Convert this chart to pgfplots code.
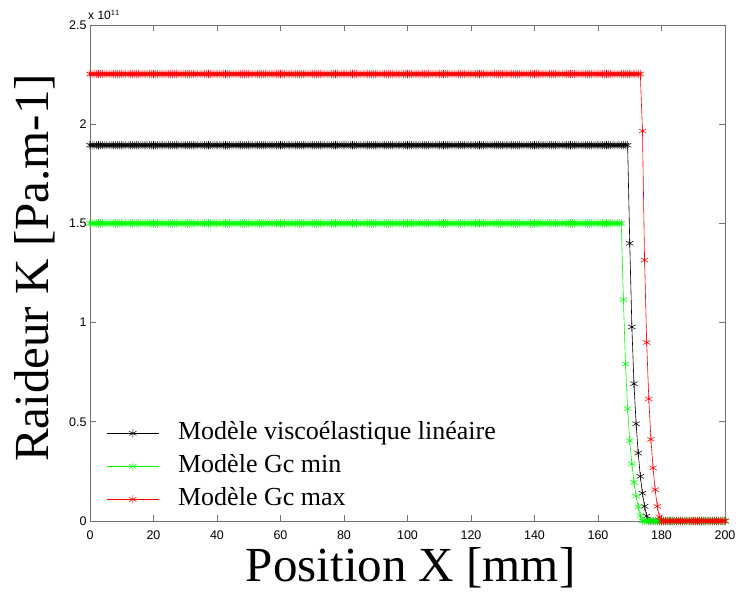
\documentclass[border=0pt]{standalone}
\usepackage{fontspec}
\setmainfont{Liberation Serif}
\newfontfamily\ticksf{Liberation Sans}
\usepackage{pgfplots}
\usepackage{pgfplotstable}
\pgfplotsset{compat=1.18}
\definecolor{mgreen}{RGB}{0,255,0}
\definecolor{mred}{RGB}{255,0,0}
\pgfplotstableread{
x k g r
0 1.894 1.5 2.253
0.67 1.894 1.5 2.253
1.33 1.894 1.5 2.253
2 1.894 1.5 2.253
2.67 1.894 1.5 2.253
3.33 1.894 1.5 2.253
4 1.894 1.5 2.253
4.67 1.894 1.5 2.253
5.33 1.894 1.5 2.253
6 1.894 1.5 2.253
6.67 1.894 1.5 2.253
7.33 1.894 1.5 2.253
8 1.894 1.5 2.253
8.67 1.894 1.5 2.253
9.33 1.894 1.5 2.253
10 1.894 1.5 2.253
10.67 1.894 1.5 2.253
11.33 1.894 1.5 2.253
12 1.894 1.5 2.253
12.67 1.894 1.5 2.253
13.33 1.894 1.5 2.253
14 1.894 1.5 2.253
14.67 1.894 1.5 2.253
15.33 1.894 1.5 2.253
16 1.894 1.5 2.253
16.67 1.894 1.5 2.253
17.33 1.894 1.5 2.253
18 1.894 1.5 2.253
18.67 1.894 1.5 2.253
19.33 1.894 1.5 2.253
20 1.894 1.5 2.253
20.67 1.894 1.5 2.253
21.33 1.894 1.5 2.253
22 1.894 1.5 2.253
22.67 1.894 1.5 2.253
23.33 1.894 1.5 2.253
24 1.894 1.5 2.253
24.67 1.894 1.5 2.253
25.33 1.894 1.5 2.253
26 1.894 1.5 2.253
26.67 1.894 1.5 2.253
27.33 1.894 1.5 2.253
28 1.894 1.5 2.253
28.67 1.894 1.5 2.253
29.33 1.894 1.5 2.253
30 1.894 1.5 2.253
30.67 1.894 1.5 2.253
31.33 1.894 1.5 2.253
32 1.894 1.5 2.253
32.67 1.894 1.5 2.253
33.33 1.894 1.5 2.253
34 1.894 1.5 2.253
34.67 1.894 1.5 2.253
35.33 1.894 1.5 2.253
36 1.894 1.5 2.253
36.67 1.894 1.5 2.253
37.33 1.894 1.5 2.253
38 1.894 1.5 2.253
38.67 1.894 1.5 2.253
39.33 1.894 1.5 2.253
40 1.894 1.5 2.253
40.67 1.894 1.5 2.253
41.33 1.894 1.5 2.253
42 1.894 1.5 2.253
42.67 1.894 1.5 2.253
43.33 1.894 1.5 2.253
44 1.894 1.5 2.253
44.67 1.894 1.5 2.253
45.33 1.894 1.5 2.253
46 1.894 1.5 2.253
46.67 1.894 1.5 2.253
47.33 1.894 1.5 2.253
48 1.894 1.5 2.253
48.67 1.894 1.5 2.253
49.33 1.894 1.5 2.253
50 1.894 1.5 2.253
50.67 1.894 1.5 2.253
51.33 1.894 1.5 2.253
52 1.894 1.5 2.253
52.67 1.894 1.5 2.253
53.33 1.894 1.5 2.253
54 1.894 1.5 2.253
54.67 1.894 1.5 2.253
55.33 1.894 1.5 2.253
56 1.894 1.5 2.253
56.67 1.894 1.5 2.253
57.33 1.894 1.5 2.253
58 1.894 1.5 2.253
58.67 1.894 1.5 2.253
59.33 1.894 1.5 2.253
60 1.894 1.5 2.253
60.67 1.894 1.5 2.253
61.33 1.894 1.5 2.253
62 1.894 1.5 2.253
62.67 1.894 1.5 2.253
63.33 1.894 1.5 2.253
64 1.894 1.5 2.253
64.67 1.894 1.5 2.253
65.33 1.894 1.5 2.253
66 1.894 1.5 2.253
66.67 1.894 1.5 2.253
67.33 1.894 1.5 2.253
68 1.894 1.5 2.253
68.67 1.894 1.5 2.253
69.33 1.894 1.5 2.253
70 1.894 1.5 2.253
70.67 1.894 1.5 2.253
71.33 1.894 1.5 2.253
72 1.894 1.5 2.253
72.67 1.894 1.5 2.253
73.33 1.894 1.5 2.253
74 1.894 1.5 2.253
74.67 1.894 1.5 2.253
75.33 1.894 1.5 2.253
76 1.894 1.5 2.253
76.67 1.894 1.5 2.253
77.33 1.894 1.5 2.253
78 1.894 1.5 2.253
78.67 1.894 1.5 2.253
79.33 1.894 1.5 2.253
80 1.894 1.5 2.253
80.67 1.894 1.5 2.253
81.33 1.894 1.5 2.253
82 1.894 1.5 2.253
82.67 1.894 1.5 2.253
83.33 1.894 1.5 2.253
84 1.894 1.5 2.253
84.67 1.894 1.5 2.253
85.33 1.894 1.5 2.253
86 1.894 1.5 2.253
86.67 1.894 1.5 2.253
87.33 1.894 1.5 2.253
88 1.894 1.5 2.253
88.67 1.894 1.5 2.253
89.33 1.894 1.5 2.253
90 1.894 1.5 2.253
90.67 1.894 1.5 2.253
91.33 1.894 1.5 2.253
92 1.894 1.5 2.253
92.67 1.894 1.5 2.253
93.33 1.894 1.5 2.253
94 1.894 1.5 2.253
94.67 1.894 1.5 2.253
95.33 1.894 1.5 2.253
96 1.894 1.5 2.253
96.67 1.894 1.5 2.253
97.33 1.894 1.5 2.253
98 1.894 1.5 2.253
98.67 1.894 1.5 2.253
99.33 1.894 1.5 2.253
100 1.894 1.5 2.253
100.67 1.894 1.5 2.253
101.33 1.894 1.5 2.253
102 1.894 1.5 2.253
102.67 1.894 1.5 2.253
103.33 1.894 1.5 2.253
104 1.894 1.5 2.253
104.67 1.894 1.5 2.253
105.33 1.894 1.5 2.253
106 1.894 1.5 2.253
106.67 1.894 1.5 2.253
107.33 1.894 1.5 2.253
108 1.894 1.5 2.253
108.67 1.894 1.5 2.253
109.33 1.894 1.5 2.253
110 1.894 1.5 2.253
110.67 1.894 1.5 2.253
111.33 1.894 1.5 2.253
112 1.894 1.5 2.253
112.67 1.894 1.5 2.253
113.33 1.894 1.5 2.253
114 1.894 1.5 2.253
114.67 1.894 1.5 2.253
115.33 1.894 1.5 2.253
116 1.894 1.5 2.253
116.67 1.894 1.5 2.253
117.33 1.894 1.5 2.253
118 1.894 1.5 2.253
118.67 1.894 1.5 2.253
119.33 1.894 1.5 2.253
120 1.894 1.5 2.253
120.67 1.894 1.5 2.253
121.33 1.894 1.5 2.253
122 1.894 1.5 2.253
122.67 1.894 1.5 2.253
123.33 1.894 1.5 2.253
124 1.894 1.5 2.253
124.67 1.894 1.5 2.253
125.33 1.894 1.5 2.253
126 1.894 1.5 2.253
126.67 1.894 1.5 2.253
127.33 1.894 1.5 2.253
128 1.894 1.5 2.253
128.67 1.894 1.5 2.253
129.33 1.894 1.5 2.253
130 1.894 1.5 2.253
130.67 1.894 1.5 2.253
131.33 1.894 1.5 2.253
132 1.894 1.5 2.253
132.67 1.894 1.5 2.253
133.33 1.894 1.5 2.253
134 1.894 1.5 2.253
134.67 1.894 1.5 2.253
135.33 1.894 1.5 2.253
136 1.894 1.5 2.253
136.67 1.894 1.5 2.253
137.33 1.894 1.5 2.253
138 1.894 1.5 2.253
138.67 1.894 1.5 2.253
139.33 1.894 1.5 2.253
140 1.894 1.5 2.253
140.67 1.894 1.5 2.253
141.33 1.894 1.5 2.253
142 1.894 1.5 2.253
142.67 1.894 1.5 2.253
143.33 1.894 1.5 2.253
144 1.894 1.5 2.253
144.67 1.894 1.5 2.253
145.33 1.894 1.5 2.253
146 1.894 1.5 2.253
146.67 1.894 1.5 2.253
147.33 1.894 1.5 2.253
148 1.894 1.5 2.253
148.67 1.894 1.5 2.253
149.33 1.894 1.5 2.253
150 1.894 1.5 2.253
150.67 1.894 1.5 2.253
151.33 1.894 1.5 2.253
152 1.894 1.5 2.253
152.67 1.894 1.5 2.253
153.33 1.894 1.5 2.253
154 1.894 1.5 2.253
154.67 1.894 1.5 2.253
155.33 1.894 1.5 2.253
156 1.894 1.5 2.253
156.67 1.894 1.5 2.253
157.33 1.894 1.5 2.253
158 1.894 1.5 2.253
158.67 1.894 1.5 2.253
159.33 1.894 1.5 2.253
160 1.894 1.5 2.253
160.67 1.894 1.5 2.253
161.33 1.894 1.5 2.253
162 1.894 1.5 2.253
162.67 1.894 1.5 2.253
163.33 1.894 1.5 2.253
164 1.894 1.5 2.253
164.67 1.894 1.5 2.253
165.33 1.894 1.5 2.253
166 1.894 1.5 2.253
166.67 1.894 1.5 2.253
167.33 1.894 1.5 2.253
168 1.894 1.116 2.253
168.67 1.894 0.791 2.253
169.33 1.894 0.566 2.253
170 1.40 0.405 2.253
170.67 0.978 0.288 2.253
171.33 0.692 0.195 2.253
172 0.49 0.125 2.253
172.67 0.342 0.072 2.253
173.33 0.225 0.027 2.253
174 0.140 0 1.966
174.67 0.074 0 1.315
175.33 0.025 0 0.90
176 0 0 0.615
176.67 0 0 0.412
177.33 0 0 0.268
178 0 0 0.158
178.67 0 0 0.074
179.33 0 0 0.02
180 0 0 0
180.67 0 0 0
181.33 0 0 0
182 0 0 0
182.67 0 0 0
183.33 0 0 0
184 0 0 0
184.67 0 0 0
185.33 0 0 0
186 0 0 0
186.67 0 0 0
187.33 0 0 0
188 0 0 0
188.67 0 0 0
189.33 0 0 0
190 0 0 0
190.67 0 0 0
191.33 0 0 0
192 0 0 0
192.67 0 0 0
193.33 0 0 0
194 0 0 0
194.67 0 0 0
195.33 0 0 0
196 0 0 0
196.67 0 0 0
197.33 0 0 0
198 0 0 0
198.67 0 0 0
199.33 0 0 0
200 0 0 0
}\datatable
\begin{document}
\begin{tikzpicture}
\begin{axis}[
  name=ax,
  scale only axis,
  width=635pt, height=496pt,
  xmin=0, xmax=200, ymin=0, ymax=2.5,
  xtick={0,20,...,200},
  ytick={0,0.5,1,1.5,2,2.5},
  yticklabels={0,0.5,1,1.5,2,2.5},
  tick align=inside,
  major tick length=6pt,
  axis line style={black!55, line width=0.8pt},
  every tick/.style={black!55, line width=0.8pt},
  tick label style={font=\ticksf\fontsize{12.5}{13}\selectfont, text=black},
  /pgf/number format/assume math mode=true,
  xticklabel style={yshift=-6pt},
  yticklabel style={xshift=0pt},
  clip=false,
  xlabel={Position X [mm]},
  ylabel={Raideur K [Pa.m-1]},
  label style={font=\fontsize{49}{55}\selectfont},
  xlabel style={at={(axis description cs:0.505,-0.094)}, anchor=center},
  ylabel style={at={(axis description cs:-0.0866,0.51)}, anchor=center},
  legend image code/.code={\draw[mark repeat=2,mark phase=2,#1] plot coordinates {(0pt,0pt) (26pt,0pt) (52pt,0pt)};},
  legend cell align=left,
  legend style={draw=none, fill=none,
    at={(axis description cs:0.021,0.006)}, anchor=south west,
    font=\fontsize{26}{30}\selectfont,
    nodes={text height=19pt, text depth=6pt, inner sep=4pt},
    /tikz/every odd column/.append style={column sep=15pt}},
]
\addplot[black, line width=0.6pt, mark=asterisk, mark size=4.2pt, mark options={line width=0.55pt}] table[x=x, y=k] {\datatable};
\addlegendentry{Modèle viscoélastique linéaire}
\addplot[mgreen, line width=0.6pt, mark=asterisk, mark size=4.2pt, mark options={line width=0.55pt}] table[x=x, y=g] {\datatable};
\addlegendentry{Modèle Gc min}
\addplot[mred, line width=0.6pt, mark=asterisk, mark size=4.2pt, mark options={line width=0.55pt}] table[x=x, y=r] {\datatable};
\addlegendentry{Modèle Gc max}
\node[anchor=south west, inner sep=0pt, font=\ticksf\fontsize{12}{13}\selectfont] at ([xshift=-2pt, yshift=5pt]rel axis cs:0,1) {x 10$^{\mathsf{11}}$};
\end{axis}
\pgfresetboundingbox
\path ([shift={(-90pt,-74pt)}]ax.south west) rectangle ([shift={(11pt,25pt)}]ax.north east);
\end{tikzpicture}
\end{document}
